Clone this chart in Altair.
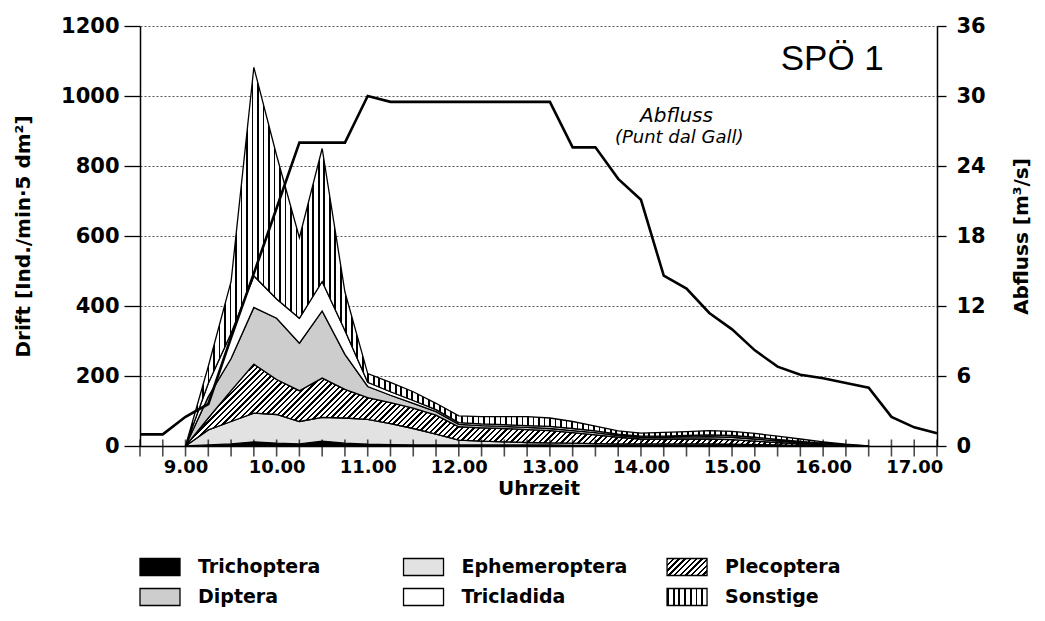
import altair as alt
import pandas as pd

# ---------------- data ----------------
times = [9.0, 9.25, 9.5, 9.75, 10.0, 10.25, 10.5, 10.75, 11.0, 11.25, 11.5, 11.75,
         12.0, 12.25, 12.5, 12.75, 13.0, 13.25, 13.5, 13.75, 14.0, 14.25, 14.5, 14.75,
         15.0, 15.25, 15.5, 15.75, 16.0, 16.25, 16.5]

trichoptera   = [0, 3, 6, 12, 8, 6, 14, 8, 5, 4, 3, 3, 3, 3, 3, 3, 3, 2, 2, 2, 2, 2, 2, 2, 2, 1, 1, 1, 0, 0, 0]
ephemeroptera = [0, 43, 64, 82, 82, 64, 68, 72, 71, 60, 47, 31, 14, 11, 9, 7, 6, 6, 5, 4, 4, 4, 4, 4, 3, 3, 2, 1, 1, 0, 0]
plecoptera    = [0, 34, 88, 140, 100, 88, 112, 82, 62, 60, 58, 54, 38, 38, 38, 37, 35, 30, 25, 19, 14, 14, 14, 14, 13, 10, 7, 4, 2, 1, 0]
diptera       = [0, 61, 92, 162, 175, 136, 192, 100, 32, 21, 14, 10, 7, 6, 6, 6, 6, 6, 6, 5, 5, 5, 6, 7, 7, 6, 5, 4, 3, 1, 0]
tricladida    = [0, 38, 72, 90, 55, 71, 84, 68, 12, 10, 8, 6, 5, 5, 5, 5, 6, 6, 5, 4, 3, 3, 4, 5, 5, 5, 4, 3, 2, 1, 0]
sonstige      = [0, 49, 148, 596, 410, 230, 380, 110, 25, 27, 25, 18, 19, 21, 23, 26, 24, 20, 14, 9, 9, 11, 11, 12, 12, 11, 9, 7, 4, 2, 0]

species = ["Trichoptera", "Ephemeroptera", "Plecoptera", "Diptera", "Tricladida", "Sonstige"]
series = [trichoptera, ephemeroptera, plecoptera, diptera, tricladida, sonstige]

q_times = [8.5, 8.75, 9.0, 9.25, 9.5, 9.75, 10.0, 10.25, 10.5, 10.75, 11.0, 11.25,
           11.5, 11.75, 12.0, 12.25, 12.5, 12.75, 13.0, 13.25, 13.5, 13.75, 14.0, 14.25,
           14.5, 14.75, 15.0, 15.25, 15.5, 15.75, 16.0, 16.25, 16.5, 16.75, 17.0, 17.25]
abfluss = [1.0, 1.0, 2.5, 3.6, 9.3, 14.8, 20.4, 26.0, 26.0, 26.0, 30.0, 29.5,
           29.5, 29.5, 29.5, 29.5, 29.5, 29.5, 29.5, 25.6, 25.6, 22.9, 21.1, 14.6,
           13.5, 11.4, 10.0, 8.2, 6.8, 6.1, 5.8, 5.4, 5.0, 2.5, 1.6, 1.1]

tick_times = q_times
hour_labels = [9, 10, 11, 12, 13, 14, 15, 16, 17]
drift_ticks = [0, 200, 400, 600, 800, 1000, 1200]
q_ticks = [0, 6, 12, 18, 24, 30, 36]

legend_col = [0, 1, 2, 0, 1, 2]
legend_row = [0, 0, 0, 1, 1, 1]

# ---------------- styles ----------------
FONT = "DejaVu Sans"


def stripes(n, dark, x2, y2):
    stops = []
    for i in range(n):
        a = round(i / n, 6)
        b = round((i + dark) / n, 6)
        c = round((i + 1) / n, 6)
        stops += [{"offset": a, "color": "black"}, {"offset": b, "color": "black"},
                  {"offset": b, "color": "white"}, {"offset": c, "color": "white"}]
    return {"gradient": "linear", "x1": 0, "y1": 0, "x2": x2, "y2": y2, "stops": stops}


fills_main = {
    "Trichoptera": "black",
    "Ephemeroptera": "#e2e2e2",
    "Plecoptera": stripes(135, 0.42, 1.104, 0.133),
    "Diptera": "#cdcdcd",
    "Tricladida": "white",
    "Sonstige": stripes(124, 0.32, 1, 0),
}
fills_legend = {
    "Trichoptera": "black",
    "Ephemeroptera": "#e2e2e2",
    "Plecoptera": stripes(10, 0.42, 1.207, 0.513),
    "Diptera": "#cdcdcd",
    "Tricladida": "white",
    "Sonstige": stripes(7, 0.32, 1, 0),
}
NOVIEW = alt.ViewBackground(stroke="transparent", strokeWidth=0)

# ---------------- tables ----------------
rows = []
for k, (name, vals) in enumerate(zip(species, series)):
    for t, v in zip(times, vals):
        rows.append({"t": t, "species": name, "value": v, "order": k})
df = pd.DataFrame(rows)
dq = pd.DataFrame({"t": q_times, "q": abfluss})
dticks = pd.DataFrame({"t": tick_times})

xscale = alt.Scale(domain=[8.5, 17.25], nice=False, zero=False)
yscale = alt.Scale(domain=[0, 1200], nice=False)

xaxis = alt.Axis(values=hour_labels, labelExpr="format(datum.value, '.2f')", ticks=False,
                 grid=False, domainColor="black", domainWidth=1.5, labelFont=FONT,
                 labelFontWeight="bold", labelFontSize=18, labelColor="black", labelPadding=12,
                 title="Uhrzeit", titleFont=FONT, titleFontWeight="bold", titleFontSize=20,
                 titleColor="black", titlePadding=2)
yaxis = alt.Axis(values=drift_ticks, format="d", grid=True, gridDash=[2, 2], gridColor="#444444",
                 gridWidth=0.9, domainColor="black", domainWidth=1.5, tickColor="black",
                 tickSize=16, tickWidth=1.3, labelFont=FONT, labelFontWeight="bold",
                 labelFontSize=21, labelColor="black", labelPadding=5,
                 title="Drift [Ind./min·5 dm²]", titleFont=FONT, titleFontWeight="bold",
                 titleFontSize=20, titleColor="black", titlePadding=27)

X = alt.X("t:Q", scale=xscale, axis=xaxis)

base = alt.Chart(df).transform_stack(
    stack="value", groupby=["t"], as_=["y0", "y1"],
    sort=[alt.SortField("order", order="ascending")])

layers = []
for k, name in enumerate(species):
    layers.append(
        base.transform_filter(alt.datum.species == name)
        .mark_area(fill=fills_main[name], stroke="black", strokeWidth=1.3, interpolate="linear")
        .encode(x=X, y=alt.Y("y1:Q", scale=yscale, axis=yaxis), y2="y0:Q")
    )

ticks = alt.Chart(dticks).mark_tick(orient="vertical", size=17, thickness=1.6,
                                    color="black", yOffset=2).encode(
    x=X, y=alt.Y(datum=0, scale=yscale, axis=yaxis))

ann_spo = alt.Chart(pd.DataFrame({"t": [16.1], "v": [1074], "s": ["SPÖ 1"]})).mark_text(
    font="Liberation Sans", fontSize=35, align="center", baseline="alphabetic", color="black"
).encode(x=X, y=alt.Y("v:Q", scale=yscale, axis=yaxis), text="s:N")
ann_abf = alt.Chart(pd.DataFrame({"t": [14.39], "v": [927], "s": ["Abfluss"]})).mark_text(
    font=FONT, fontSize=20, fontStyle="italic", align="center", baseline="alphabetic", color="black"
).encode(x=X, y=alt.Y("v:Q", scale=yscale, axis=yaxis), text="s:N")
ann_pdg = alt.Chart(pd.DataFrame({"t": [14.42], "v": [866], "s": ["(Punt dal Gall)"]})).mark_text(
    font=FONT, fontSize=18, fontStyle="italic", align="center", baseline="alphabetic", color="black"
).encode(x=X, y=alt.Y("v:Q", scale=yscale, axis=yaxis), text="s:N")

left = alt.layer(*layers, ticks, ann_spo, ann_abf, ann_pdg)

line = alt.Chart(dq).mark_line(color="black", strokeWidth=2.6, strokeJoin="miter").encode(
    x=X,
    y=alt.Y("q:Q", scale=alt.Scale(domain=[0, 36], nice=False),
            axis=alt.Axis(orient="right", values=q_ticks, grid=False, domainColor="black",
                          domainWidth=1.5, tickColor="black", tickSize=9, tickWidth=1.3,
                          labelFont=FONT, labelFontWeight="bold", labelFontSize=21,
                          labelColor="black", labelPadding=10, title="Abfluss [m³/s]",
                          titleAngle=270, titleFont=FONT, titleFontWeight="bold",
                          titleFontSize=20, titleColor="black", titlePadding=46)))

main = alt.layer(left, line).resolve_scale(y="independent").properties(
    width=797, height=420, view=NOVIEW)

# ---------------- legend ----------------
dleg = pd.DataFrame({"species": species, "col": legend_col, "row": legend_row})
lx = alt.Scale(domain=[-0.0759, 2.884], nice=False, zero=False)
ly = alt.Scale(domain=[-0.5, 1.5], nice=False, reverse=True)
leg_layers = []
for name in species:
    leg_layers.append(
        alt.Chart(dleg).transform_filter(alt.datum.species == name)
        .mark_rect(fill=fills_legend[name], stroke="black", strokeWidth=1.3, width=40, height=17)
        .encode(x=alt.X("col:Q", scale=lx, axis=None), y=alt.Y("row:Q", scale=ly, axis=None))
    )
leg_text = alt.Chart(dleg).mark_text(font=FONT, fontWeight="bold", fontSize=19, align="left",
                                     baseline="middle", dx=38, color="black").encode(
    x=alt.X("col:Q", scale=lx, axis=None), y=alt.Y("row:Q", scale=ly, axis=None), text="species:N")
legend = alt.layer(*leg_layers, leg_text).properties(width=780, height=60, view=NOVIEW)

chart = alt.vconcat(main, legend, spacing=54).properties(
    padding={"left": 5, "top": 7, "right": 0, "bottom": 5}
).configure_view(strokeWidth=0, stroke="transparent").configure(background="white")

chart.save("out.html", embed_options={"renderer": "svg", "actions": False})
